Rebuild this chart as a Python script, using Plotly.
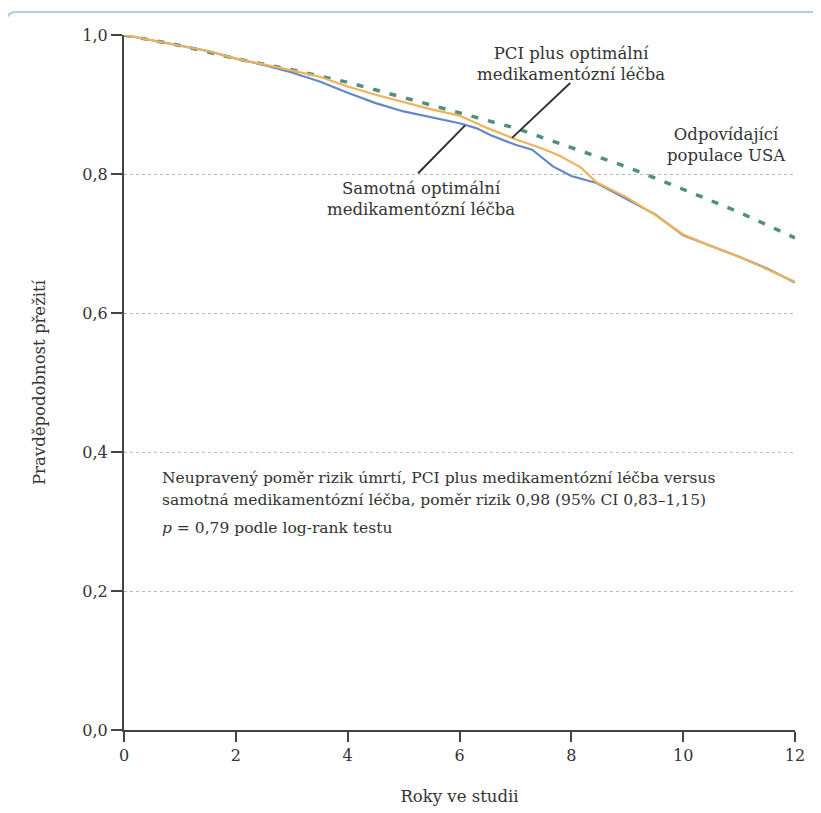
import plotly.graph_objects as go

# ---- data ----
years_blue = [0, 0.5, 1, 1.5, 2, 2.5, 3, 3.5, 4, 4.5, 5, 5.5, 6, 6.3, 6.55, 7, 7.3, 7.67, 8, 8.45, 9, 9.5, 10, 10.5, 11, 11.5, 12]
surv_omt = [1.0, 0.992, 0.984, 0.977, 0.966, 0.957, 0.946, 0.933, 0.917, 0.902, 0.890, 0.882, 0.873, 0.866, 0.856, 0.842, 0.835, 0.811, 0.797, 0.787, 0.764, 0.742, 0.712, 0.697, 0.681, 0.664, 0.644]

years_orange = [0, 0.5, 1, 1.5, 2, 2.5, 3, 3.5, 4, 4.5, 5, 5.5, 6, 6.5, 7, 7.5, 7.8, 8.16, 8.45, 9, 9.5, 10, 10.5, 11, 11.5, 12]
surv_pci = [1.0, 0.992, 0.984, 0.977, 0.966, 0.958, 0.949, 0.940, 0.926, 0.914, 0.903, 0.893, 0.884, 0.866, 0.850, 0.836, 0.826, 0.810, 0.788, 0.766, 0.741, 0.713, 0.696, 0.681, 0.663, 0.645]

years_us = [0, 1, 2, 3, 4, 5, 6, 7, 8, 9, 10, 11, 12]
surv_us = [1.0, 0.985, 0.966, 0.950, 0.932, 0.910, 0.889, 0.866, 0.838, 0.810, 0.778, 0.745, 0.708]

x_ticks = [0, 2, 4, 6, 8, 10, 12]
y_ticks = [0.0, 0.2, 0.4, 0.6, 0.8, 1.0]
y_tick_labels = ["0,0", "0,2", "0,4", "0,6", "0,8", "1,0"]

FONT = "DejaVu Serif"
TXT = "#333333"

fig = go.Figure()
fig.add_trace(go.Scatter(x=years_us, y=surv_us, mode="lines",
                         line=dict(color="#4f8f80", width=3.5, dash="7px,10px"),
                         hoverinfo="skip", showlegend=False))
fig.add_trace(go.Scatter(x=years_blue, y=surv_omt, mode="lines",
                         line=dict(color="#6487c8", width=2.2),
                         showlegend=False))
fig.add_trace(go.Scatter(x=years_orange, y=surv_pci, mode="lines",
                         line=dict(color="#f0b257", width=2.2),
                         showlegend=False))

# leader lines
fig.add_shape(type="line", x0=7.98, y0=0.931, x1=6.94, y1=0.852,
              line=dict(color="#333333", width=2))
fig.add_shape(type="line", x0=6.10, y0=0.870, x1=5.26, y1=0.801,
              line=dict(color="#333333", width=2))

# frame (rounded top-left corner)
x0, yt, yb, xr = -0.1759, 1.0331, -0.15, 1.06
rx, ry = 0.016, 0.016
fig.add_shape(type="path", xref="paper", yref="paper",
              path=f"M {x0},{yb} L {x0},{yt-ry} Q {x0},{yt} {x0+rx},{yt} L {xr},{yt}",
              line=dict(color="#a9d1dd", width=2.2), layer="below")

def ann(x, y, text, align="center", xanchor="center"):
    fig.add_annotation(x=x, y=y, text=text, showarrow=False, align=align,
                       xanchor=xanchor, yanchor="middle",
                       font=dict(family=FONT, size=16.5, color=TXT))

ann(7.99, 0.959, "PCI plus optimální<br>medikamentózní léčba")
ann(5.32, 0.764, "Samotná optimální<br>medikamentózní léčba")
ann(10.77, 0.842, "Odpovídající<br>populace USA")

SF = 15.5
fig.add_annotation(x=0.64, y=0.363, text="Neupravený poměr rizik úmrtí, PCI plus medikamentózní léčba versus",
                   showarrow=False, xanchor="left", yanchor="middle",
                   font=dict(family=FONT, size=SF, color=TXT))
fig.add_annotation(x=0.64, y=0.331, text="samotná medikamentózní léčba, poměr rizik 0,98 (95% CI 0,83–1,15)",
                   showarrow=False, xanchor="left", yanchor="middle",
                   font=dict(family=FONT, size=SF, color=TXT))
fig.add_annotation(x=0.64, y=0.291, text="<i>p</i> = 0,79 podle log-rank testu",
                   showarrow=False, xanchor="left", yanchor="middle",
                   font=dict(family=FONT, size=SF, color=TXT))

fig.update_xaxes(range=[0, 12], tickvals=x_ticks, ticktext=[str(t) for t in x_ticks],
                 showgrid=False, zeroline=False, showline=True, linecolor="#444444", linewidth=2,
                 ticks="outside", ticklen=10, tickwidth=1.5, tickcolor="#444444",
                 tickfont=dict(family=FONT, size=16, color=TXT), automargin=False,
                 title=dict(text="Roky ve studii", font=dict(family=FONT, size=16.5, color=TXT), standoff=26))
fig.update_yaxes(range=[0, 1.0], tickvals=y_ticks, ticktext=y_tick_labels,
                 showgrid=True, gridcolor="#bbbbbb", griddash="dot", gridwidth=1,
                 zeroline=False, showline=True, linecolor="#444444", linewidth=2,
                 ticks="outside", ticklen=11, tickwidth=1.5, tickcolor="#444444",
                 tickfont=dict(family=FONT, size=16, color=TXT), automargin=False,
                 title=dict(text="Pravděpodobnost přežití", font=dict(family=FONT, size=16.5, color=TXT), standoff=33))

fig.update_layout(width=821, height=813, plot_bgcolor="white", paper_bgcolor="white",
                  margin=dict(l=116, r=34, t=27, b=91))

fig.write_html("out.html")
